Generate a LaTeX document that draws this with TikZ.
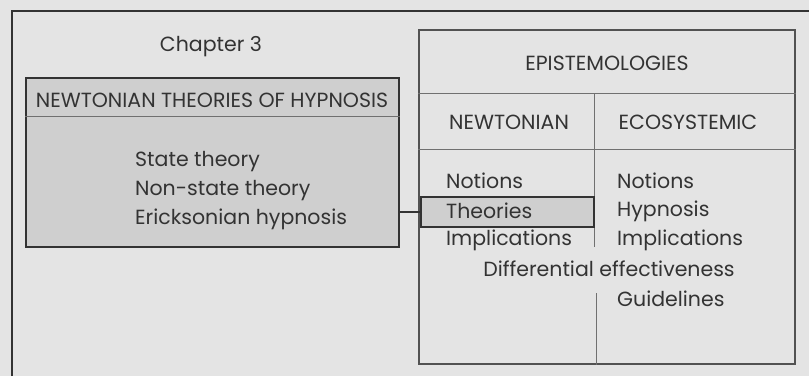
\documentclass[tikz,border=0pt]{standalone}
\usepackage{fontspec}
\setmainfont{Poppins}
\usepackage{tikz}
\definecolor{paper}{HTML}{E4E4E4}
\definecolor{shade}{HTML}{CFCFCF}
\definecolor{ink}{HTML}{333333}
\tikzset{
  lbl/.style={text=ink,font=\fontsize{20.5}{24}\selectfont,inner sep=0pt},
  item/.style={lbl,anchor=west},
  thinrule/.style={draw=ink!70,line width=0.7pt},
  heavybox/.style={draw=ink,line width=1.8pt,fill=shade}
}

\begin{document}
\begin{tikzpicture}[x=1pt,y=-1pt]
  \fill[paper] (0,0) rectangle (809,376);
  \useasboundingbox (0,0) rectangle (809,376);
  \draw[ink,line width=1.6pt] (12,376)--(12,11)--(809,11);

  \node[lbl] (chap) at (211,47) {Chapter 3};
  \node[heavybox,minimum width=373,minimum height=169] (lbox) at (212.5,162.5) {};
  \draw[thinrule] (lbox.west |- 0,116)--(lbox.east |- 0,116);
  \node[lbl] (lhead) at (212,100) {NEWTONIAN THEORIES OF HYPNOSIS};
  \node[item] (state) at (135,162) {State theory};
  \node[item] (nonstate) at (135,191) {Non-state theory};
  \node[item] (erick) at (135,219) {Ericksonian hypnosis};

  \node[draw=ink!85,line width=1.1pt,minimum width=376,minimum height=334] (rbox) at (607,197) {};
  \draw[thinrule] (rbox.west |- 0,93)--(rbox.east |- 0,93);
  \draw[thinrule] (rbox.west |- 0,149)--(rbox.east |- 0,149);
  \draw[thinrule] (594,93)--(594,247);
  \draw[thinrule] (596,293)--(rbox.south -| 596,0);
  \node[lbl] (epis) at (607,63) {EPISTEMOLOGIES};
  \node[lbl] (newt) at (509,122) {NEWTONIAN};
  \node[lbl] (eco) at (688,122) {ECOSYSTEMIC};

  \node[heavybox,line width=1.5pt,minimum width=173,minimum height=30] (theobox) at (507.5,212) {};
  \draw[ink,line width=1.5pt] (lbox.east |- theobox)--(theobox.west);

  \node[item] (nnot) at (446,181) {Notions};
  \node[item] (ntheo) at (446,211) {Theories};
  \node[item] (nimp) at (446,240) {Implications};
  \node[item] (enot) at (617,181) {Notions};
  \node[item] (ehyp) at (617,211) {Hypnosis};
  \node[item] (eimp) at (617,240) {Implications};
  \node[lbl] (diff) at (609,269) {Differential effectiveness};
  \node[item] (guide) at (617,299) {Guidelines};
\end{tikzpicture}
\end{document}
